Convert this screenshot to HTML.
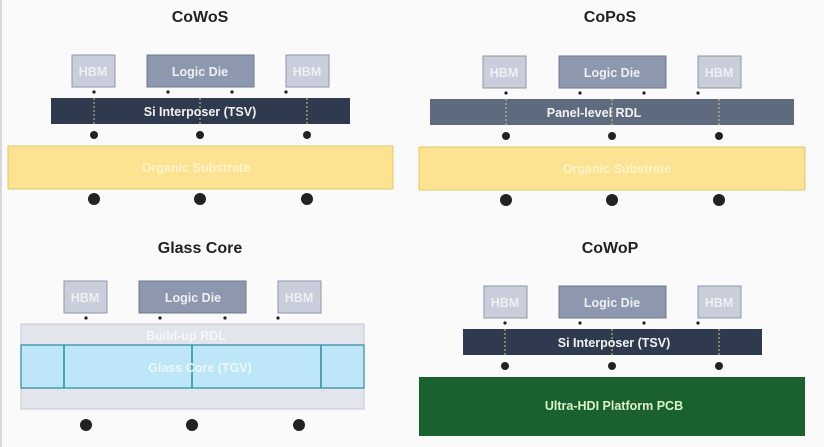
<!DOCTYPE html>
<html><head><meta charset="utf-8"><style>
html,body{margin:0;padding:0;background:#fafafa;}
svg{display:block;font-family:"Liberation Sans",sans-serif;font-weight:bold;}
</style></head><body>
<svg width="824" height="447" viewBox="0 0 824 447" xmlns="http://www.w3.org/2000/svg">
<rect width="824" height="447" fill="#fafafa"/>
<rect x="0" y="0" width="2" height="447" fill="#d8d8d8"/>
<g font-size="12.5" text-anchor="middle">
<!-- CoWoS -->
<text x="200" y="22" font-size="16" fill="#222">CoWoS</text>
<rect x="72" y="55" width="43" height="32" fill="#c9ceda" stroke="#8f97a6"/>
<text x="93" y="76" fill="#eef0f4">HBM</text>
<rect x="147" y="55" width="107" height="32" fill="#8d97ad" stroke="#6f788a"/>
<text x="200" y="76" fill="#eef0f4">Logic Die</text>
<rect x="286" y="55" width="43" height="32" fill="#c9ceda" stroke="#8f97a6"/>
<text x="307" y="76" fill="#eef0f4">HBM</text>
<g fill="#222"><circle cx="94" cy="92" r="1.6"/><circle cx="168" cy="92" r="1.6"/><circle cx="232" cy="92" r="1.6"/><circle cx="286" cy="92" r="1.6"/></g>
<rect x="51" y="98" width="299" height="26" fill="#2f3a4e"/>
<g stroke="#d8c77a" stroke-dasharray="2,2"><line x1="94" y1="98" x2="94" y2="124"/><line x1="200" y1="98" x2="200" y2="124"/><line x1="307" y1="98" x2="307" y2="124"/></g>
<text x="200" y="116" fill="#f2f2f2">Si Interposer (TSV)</text>
<g fill="#222"><circle cx="94" cy="135" r="4"/><circle cx="200" cy="135" r="4"/><circle cx="307" cy="135" r="4"/></g>
<rect x="8" y="146" width="385" height="43" fill="#fbe392" stroke="#e8c66a"/>
<text x="196" y="172" fill="#fdf3c9">Organic Substrate</text>
<g fill="#222"><circle cx="94" cy="199" r="6"/><circle cx="200" cy="199" r="6"/><circle cx="307" cy="199" r="6"/></g>

<!-- CoPoS -->
<text x="610" y="22" font-size="16" fill="#222">CoPoS</text>
<rect x="483" y="56" width="43" height="32" fill="#c9ceda" stroke="#8f97a6"/>
<text x="504" y="77" fill="#eef0f4">HBM</text>
<rect x="559" y="56" width="107" height="32" fill="#8d97ad" stroke="#6f788a"/>
<text x="612" y="77" fill="#eef0f4">Logic Die</text>
<rect x="698" y="56" width="43" height="32" fill="#c9ceda" stroke="#8f97a6"/>
<text x="719" y="77" fill="#eef0f4">HBM</text>
<g fill="#222"><circle cx="506" cy="93" r="1.6"/><circle cx="580" cy="93" r="1.6"/><circle cx="644" cy="93" r="1.6"/><circle cx="698" cy="93" r="1.6"/></g>
<rect x="430" y="99" width="364" height="26" fill="#5e6a7e"/>
<g stroke="#d8c77a" stroke-dasharray="2,2"><line x1="506" y1="99" x2="506" y2="125"/><line x1="612" y1="99" x2="612" y2="125"/><line x1="719" y1="99" x2="719" y2="125"/></g>
<text x="594" y="117" fill="#f2f2f2">Panel-level RDL</text>
<g fill="#222"><circle cx="506" cy="136" r="4"/><circle cx="612" cy="136" r="4"/><circle cx="719" cy="136" r="4"/></g>
<rect x="419" y="147" width="386" height="43" fill="#fbe392" stroke="#e8c66a"/>
<text x="617" y="173" fill="#fdf3c9">Organic Substrate</text>
<g fill="#222"><circle cx="506" cy="200" r="6"/><circle cx="612" cy="200" r="6"/><circle cx="719" cy="200" r="6"/></g>

<!-- Glass Core -->
<text x="200" y="253" font-size="16" fill="#222">Glass Core</text>
<rect x="64" y="281" width="43" height="32" fill="#c9ceda" stroke="#8f97a6"/>
<text x="85" y="302" fill="#eef0f4">HBM</text>
<rect x="139" y="281" width="107" height="32" fill="#8d97ad" stroke="#6f788a"/>
<text x="193" y="302" fill="#eef0f4">Logic Die</text>
<rect x="278" y="281" width="43" height="32" fill="#c9ceda" stroke="#8f97a6"/>
<text x="299" y="302" fill="#eef0f4">HBM</text>
<g fill="#222"><circle cx="86" cy="318" r="1.6"/><circle cx="160" cy="318" r="1.6"/><circle cx="225" cy="318" r="1.6"/><circle cx="278" cy="318" r="1.6"/></g>
<rect x="21" y="324" width="343" height="85" fill="#e2e5ec" stroke="#c4c8d2"/>
<text x="186" y="340" fill="#f6f7fa">Build-up RDL</text>
<rect x="21" y="345" width="343" height="43" fill="#bde6f8" stroke="#2a8aa0" stroke-width="1.2"/>
<g stroke="#2a8aa0" stroke-width="1.5"><line x1="64" y1="345" x2="64" y2="388"/><line x1="192" y1="345" x2="192" y2="388"/><line x1="321" y1="345" x2="321" y2="388"/></g>
<text x="200" y="372" fill="#eaf7fd">Glass Core (TGV)</text>
<g fill="#222"><circle cx="86" cy="425" r="6"/><circle cx="192" cy="425" r="6"/><circle cx="299" cy="425" r="6"/></g>

<!-- CoWoP -->
<text x="610" y="253" font-size="16" fill="#222">CoWoP</text>
<rect x="484" y="286" width="43" height="32" fill="#c9ceda" stroke="#8f97a6"/>
<text x="505" y="307" fill="#eef0f4">HBM</text>
<rect x="559" y="286" width="107" height="32" fill="#8d97ad" stroke="#6f788a"/>
<text x="612" y="307" fill="#eef0f4">Logic Die</text>
<rect x="698" y="286" width="43" height="32" fill="#c9ceda" stroke="#8f97a6"/>
<text x="719" y="307" fill="#eef0f4">HBM</text>
<g fill="#222"><circle cx="505" cy="323" r="1.6"/><circle cx="580" cy="323" r="1.6"/><circle cx="644" cy="323" r="1.6"/><circle cx="698" cy="323" r="1.6"/></g>
<rect x="463" y="329" width="299" height="26" fill="#2f3a4e"/>
<g stroke="#d8c77a" stroke-dasharray="2,2"><line x1="505" y1="329" x2="505" y2="355"/><line x1="612" y1="329" x2="612" y2="355"/><line x1="719" y1="329" x2="719" y2="355"/></g>
<text x="614" y="347" fill="#f2f2f2">Si Interposer (TSV)</text>
<g fill="#222"><circle cx="505" cy="366" r="4"/><circle cx="612" cy="366" r="4"/><circle cx="719" cy="366" r="4"/></g>
<rect x="419" y="377" width="386" height="59" fill="#1b612f"/>
<text x="614" y="410" fill="#d9f2c9">Ultra-HDI Platform PCB</text>
</g>
</svg>
</body></html>
